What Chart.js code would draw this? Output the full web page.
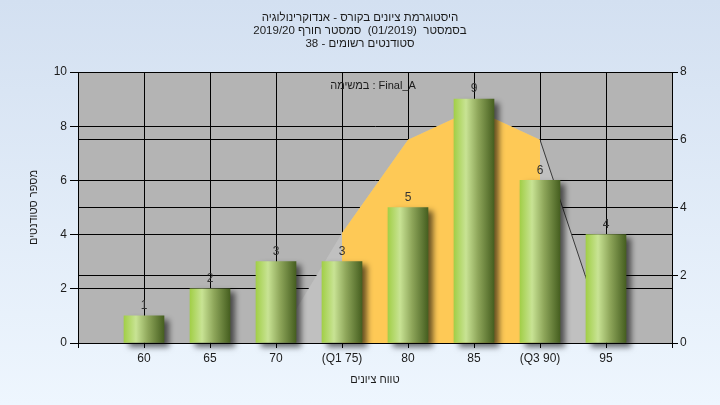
<!DOCTYPE html>
<html><head><meta charset="utf-8">
<script src="https://cdn.jsdelivr.net/npm/chart.js@4.4.1/dist/chart.umd.min.js"></script>
<style>
html,body{margin:0;padding:0;}
body{width:720px;height:405px;background:linear-gradient(to bottom,#d3e0f1,#eef6fe);overflow:hidden;}
canvas{display:block;direction:rtl;}
</style></head>
<body><canvas id="c" width="720" height="405"></canvas>
<script>
const categories = ['60','65','70','(Q1 75)','80','85','(Q3 90)','95'];
const studentCounts = [1,2,3,3,5,9,6,4];
const curveValues = [0,0,0,3.25,6,6.9,6,0.15];
const leftTicks = [0,2,4,6,8,10];
const rightTicks = [0,2,4,6,8];
const titleLines = ['היסטוגרמת ציונים בקורס - אנדוקרינולוגיה','בסמסטר  (01/2019)  סמסטר חורף 2019/20','סטודנטים רשומים - 38'];
const legendText = 'Final_A : במשימה';
const yTitle = 'מספר סטודנטים';
const xTitle = 'טווח ציונים';

const FONT = "'Liberation Sans', Arial, 'DejaVu Sans', sans-serif";
const TXT = '#1c1c1c';
const q1 = categories.findIndex(c => c.includes('Q1'));
const q3 = categories.findIndex(c => c.includes('Q3'));
const pad = arr => [null, ...arr, null];
const labels = ['', ...categories, ''];
const orangeValues = curveValues.map((v, i) => (i >= q1 && i <= q3) ? v : null);

const plotBg = {
  id: 'plotBg',
  beforeDraw(chart) {
    const {ctx, chartArea: a} = chart;
    ctx.save(); ctx.fillStyle = '#b4b4b4';
    ctx.fillRect(a.left, a.top, a.right - a.left, a.bottom - a.top);
    ctx.restore();
  }
};
const barShadow = {
  id: 'barShadow',
  beforeDatasetDraw(chart, args) {
    if (args.meta.type !== 'bar') return;
    const c = chart.ctx; c.save();
    c.shadowColor = 'rgba(0,0,0,0.6)'; c.shadowBlur = 6; c.shadowOffsetX = 5; c.shadowOffsetY = 4;
  },
  afterDatasetDraw(chart, args) {
    if (args.meta.type !== 'bar') return;
    chart.ctx.restore();
  }
};
const barLabels = {
  id: 'barLabels',
  afterDatasetsDraw(chart) {
    const ctx = chart.ctx;
    chart.data.datasets.forEach((ds, di) => {
      const meta = chart.getDatasetMeta(di);
      if (meta.type !== 'bar') return;
      meta.data.forEach((el, i) => {
        const v = ds.data[i];
        if (v === null || v === undefined) return;
        ctx.save();
        ctx.font = '12px ' + FONT; ctx.fillStyle = '#333';
        ctx.textAlign = 'center'; ctx.textBaseline = 'middle';
        ctx.fillText(String(v), el.x, el.y - 10);
        ctx.restore();
      });
    });
    const a = chart.chartArea;
    ctx.save();
    ctx.font = '11px ' + FONT; ctx.fillStyle = TXT;
    ctx.textAlign = 'center'; ctx.textBaseline = 'middle';
    ctx.fillText(legendText, (a.left + a.right) / 2 - 2, a.top + 14);
    ctx.restore();
  }
};

function barGradient(ctx) {
  const chart = ctx.chart;
  const xs = chart.scales && chart.scales.x;
  if (!xs || !chart.chartArea || ctx.type !== 'data') return '#8fb04a';
  const cx = xs.getPixelForValue(ctx.dataIndex);
  const g = chart.ctx.createLinearGradient(cx - 20, 0, cx + 20, 0);
  g.addColorStop(0, '#a2cf48');
  g.addColorStop(0.3, '#c8e394');
  g.addColorStop(0.6, '#8ea65a');
  g.addColorStop(1, '#465f20');
  return g;
}

new Chart(document.getElementById('c'), {
  data: {
    labels: labels,
    datasets: [
      {
        type: 'bar', data: pad(studentCounts), yAxisID: 'y', order: 0,
        backgroundColor: barGradient, borderWidth: 0, barThickness: 40, clip: false
      },
      {
        type: 'line', data: pad(orangeValues), yAxisID: 'y2', order: 1,
        fill: 'origin', backgroundColor: '#fec956', borderWidth: 0,
        borderColor: 'rgba(0,0,0,0)', pointRadius: 0, tension: 0
      },
      {
        type: 'line', data: pad(curveValues), yAxisID: 'y2', order: 2,
        fill: 'origin', backgroundColor: '#c0c0c0', borderWidth: 1,
        pointRadius: 0, tension: 0,
        segment: { borderColor: c => c.p0DataIndex === q3 + 1 ? '#3a3a3a' : 'rgba(0,0,0,0)' }
      }
    ]
  },
  options: {
    responsive: false, animation: false,
    layout: { padding: 0 },
    plugins: {
      legend: { display: false }, tooltip: { enabled: false },
      title: {
        display: true, text: titleLines, color: TXT,
        font: { family: FONT, size: 11.5, weight: 'normal', lineHeight: '13px' },
        padding: { top: 11, bottom: 22 }
      }
    },
    scales: {
      x: {
        type: 'category', offset: false,
        grid: { color: '#000', lineWidth: 1, tickLength: 5, offset: false },
        border: { color: '#000' },
        ticks: { autoSkip: false, maxRotation: 0, color: TXT, font: { family: FONT, size: 12 }, padding: 3 },
        title: { display: true, text: xTitle, color: TXT, font: { family: FONT, size: 11 }, padding: { top: 0, bottom: 18 } },
        afterFit: s => { s.height = 62; }
      },
      y: {
        position: 'left', min: leftTicks[0], max: leftTicks[leftTicks.length - 1],
        grid: { color: '#000', lineWidth: 1, tickLength: 8 },
        border: { color: '#000' },
        ticks: { stepSize: leftTicks[1] - leftTicks[0], color: TXT, font: { family: FONT, size: 12 }, padding: 3 },
        title: { display: true, text: yTitle, color: TXT, font: { family: FONT, size: 11 }, padding: { top: 27, bottom: 0 } },
        afterFit: s => { s.width = 78; }
      },
      y2: {
        position: 'right', min: rightTicks[0], max: rightTicks[rightTicks.length - 1],
        grid: { color: '#000', lineWidth: 1, tickLength: 6 },
        border: { color: '#000' },
        ticks: { stepSize: rightTicks[1] - rightTicks[0], color: TXT, font: { family: FONT, size: 12 }, padding: 2 },
        afterFit: s => { s.width = 48; }
      }
    }
  },
  plugins: [plotBg, barShadow, barLabels]
});
</script>
</body></html>
